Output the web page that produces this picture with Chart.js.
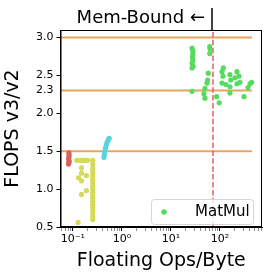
<!DOCTYPE html>
<html>
<head>
<meta charset="utf-8">
<script src="https://cdn.jsdelivr.net/npm/chart.js@4/dist/chart.umd.min.js"></script>
<style>
  html, body { margin: 0; padding: 0; background: #fff; }
  canvas { display: block; }
</style>
</head>
<body>
<canvas id="chart" width="274" height="280"></canvas>
<script>
// points
const redX = [0.083, 0.084, 0.083, 0.082, 0.084, 0.083, 0.082];
const redY = [1.48, 1.45, 1.42, 1.40, 1.37, 1.35, 1.33];

const yellowX = [0.12, 0.135, 0.15, 0.165, 0.18, 0.2, 0.15, 0.15, 0.13, 0.19, 0.15, 0.15, 0.19, 0.128,
  0.255, 0.255, 0.255, 0.255, 0.255, 0.255, 0.255, 0.255, 0.255, 0.255, 0.255, 0.255, 0.255, 0.255,
  0.255, 0.255, 0.255, 0.255, 0.255, 0.255];
const yellowY = [1.38, 1.38, 1.38, 1.38, 1.38, 1.38, 1.28, 1.21, 1.15, 1.18, 1.11, 0.93, 0.98, 0.56,
  1.38, 1.33, 1.28, 1.24, 1.20, 1.16, 1.12, 1.08, 1.04, 1.00, 0.96, 0.92, 0.88, 0.84,
  0.80, 0.76, 0.72, 0.68, 0.64, 0.60];

const cyanX = [0.43, 0.44, 0.45, 0.46, 0.48, 0.5, 0.53, 0.55];
const cyanY = [1.42, 1.46, 1.50, 1.54, 1.58, 1.62, 1.65, 1.67];

const matmulX = [27, 28, 28, 27.5, 28, 27, 28.5, 27, 27,
  62, 63, 62,
  57.7, 56, 54.4, 49.4, 47.2, 49.4,
  85.7, 96.6,
  117, 110, 115, 110, 132,
  160, 167, 160, 160,
  202, 222, 244, 222, 255,
  309, 372, 409, 443];
const matmulY = [2.86, 2.82, 2.78, 2.74, 2.70, 2.66, 2.62, 2.60, 2.29,
  2.88, 2.85, 2.79,
  2.53, 2.44, 2.40, 2.33, 2.26, 2.20,
  2.22, 2.14,
  2.60, 2.55, 2.49, 2.40, 2.38,
  2.51, 2.44, 2.35, 2.27,
  2.47, 2.55, 2.49, 2.39, 2.41,
  2.22, 2.34, 2.39, 2.41];

const hLevels = [1.5, 2.3, 3.0];
const hSpan = [0.056, 450];
const memBoundX = 72;
const yTicks = [0.5, 1.0, 1.5, 2.0, 2.3, 2.5, 3.0];
const xRange = [0.056, 720];
const yRange = [0.5, 3.1];

const pts = (xs, ys) => xs.map((x, i) => ({ x: x, y: ys[i] }));
const sup = { '-': '⁻', '0': '⁰', '1': '¹', '2': '²', '3': '³' };

const datasets = [];
hLevels.forEach(v => {
  datasets.push({
    type: 'line', label: 'h' + v, data: [{ x: hSpan[0], y: v }, { x: hSpan[1], y: v }],
    borderColor: '#e6a65c', borderWidth: 2, pointRadius: 0, order: 5
  });
});
datasets.push({
  type: 'line', label: 'mem', data: [{ x: memBoundX, y: yRange[0] }, { x: memBoundX, y: yRange[1] }],
  borderColor: '#e06a6a', borderWidth: 1.6, borderDash: [5.5, 2.4], pointRadius: 0, order: 4
});
const dots = [
  ['red', redX, redY, '#db5f57'],
  ['yellow', yellowX, yellowY, '#d3db57'],
  ['cyan', cyanX, cyanY, '#57d3db'],
  ['MatMul', matmulX, matmulY, '#57db5f']
];
dots.forEach(d => {
  datasets.push({
    label: d[0], data: pts(d[1], d[2]), backgroundColor: d[3], borderColor: d[3],
    pointRadius: 2.6, borderWidth: 0, order: 1
  });
});

const extras = {
  id: 'extras',
  afterDraw(chart) {
    const c = chart.ctx, a = chart.chartArea;
    const xs = chart.scales.x;
    c.save();
    c.strokeStyle = '#000';
    c.lineWidth = 1;
    c.strokeRect(a.left + 0.5, a.top + 0.5, a.right - a.left - 1, a.bottom - a.top - 1);

    // Mem-Bound marker
    const mx = Math.round(xs.getPixelForValue(memBoundX)) - 1;
    c.lineWidth = 1.5;
    c.beginPath();
    c.moveTo(mx, 8);
    c.lineTo(mx, a.top);
    c.stroke();
    c.fillStyle = '#000';
    c.font = '18px "DejaVu Sans"';
    c.textAlign = 'right';
    c.textBaseline = 'alphabetic';
    c.fillText('Mem-Bound ←', mx - 7, 23);

    // legend
    const lx = 151, ly = 199, lw = 102, lh = 25;
    c.fillStyle = 'rgba(255,255,255,0.8)';
    c.strokeStyle = '#d6d6d6';
    c.lineWidth = 1;
    c.beginPath();
    c.roundRect(lx + 0.5, ly + 0.5, lw, lh, 3);
    c.fill();
    c.stroke();
    c.fillStyle = '#57db5f';
    c.beginPath();
    c.arc(lx + 13, ly + lh / 2 + 0.5, 2.8, 0, Math.PI * 2);
    c.fill();
    c.fillStyle = '#000';
    c.font = '15px "DejaVu Sans"';
    c.textAlign = 'left';
    c.textBaseline = 'middle';
    c.fillText(dots[3][0], lx + 44, ly + lh / 2 + 1);
    c.restore();
  }
};

new Chart(document.getElementById('chart'), {
  type: 'scatter',
  data: { datasets: datasets },
  options: {
    responsive: false,
    animation: false,
    devicePixelRatio: 1,
    layout: { padding: { top: 30, right: 12, left: 0, bottom: 0 } },
    plugins: { legend: { display: false }, tooltip: { enabled: false } },
    scales: {
      x: {
        type: 'logarithmic',
        min: xRange[0], max: xRange[1],
        afterBuildTicks(s) {
          const t = [];
          for (let e = -2; e <= 3; e++) {
            for (let m = 1; m <= 9; m++) {
              const v = m * Math.pow(10, e);
              if (v >= xRange[0] && v <= xRange[1]) t.push({ value: v, major: m === 1 });
            }
          }
          s.ticks = t;
        },
        afterFit(s) { s.height = 53; },
        ticks: {
          autoSkip: false, maxRotation: 0, padding: 2, color: '#000',
          font: { family: 'DejaVu Sans', size: 11 },
          callback(v) {
            const e = Math.round(Math.log10(v));
            if (Math.abs(v - Math.pow(10, e)) > 1e-9 * Math.pow(10, e)) return '';
            return '10' + String(e).split('').map(ch => sup[ch]).join('');
          }
        },
        grid: {
          drawOnChartArea: false, drawTicks: true, tickLength: 4,
          tickColor: ctx => (ctx.tick && ctx.tick.major) ? '#000' : '#444',
          tickWidth: ctx => (ctx.tick && ctx.tick.major) ? 1 : 0.6
        },
        border: { display: true, color: '#000', width: 1 },
        title: {
          display: true, text: 'Floating Ops/Byte', color: '#000',
          font: { family: 'DejaVu Sans', size: 19 }, padding: { top: 0, bottom: 8 }
        }
      },
      y: {
        min: yRange[0], max: yRange[1],
        afterBuildTicks(s) { s.ticks = yTicks.map(v => ({ value: v })); },
        afterFit(s) { s.width = 60.5; },
        ticks: {
          autoSkip: false, padding: 3, color: '#000',
          font: { family: 'DejaVu Sans', size: 11 },
          callback: v => v.toFixed(1)
        },
        grid: {
          drawOnChartArea: false, drawTicks: true, tickLength: 4,
          tickColor: ctx => (ctx.tick && ctx.tick.value === 2.3) ? 'rgba(0,0,0,0)' : '#000'
        },
        border: { display: true, color: '#000', width: 1 },
        title: {
          display: true, text: 'FLOPS v3/v2', color: '#000',
          font: { family: 'DejaVu Sans', size: 19 }, padding: { top: 2, bottom: 2 }
        }
      }
    }
  },
  plugins: [extras]
});
</script>
</body>
</html>
